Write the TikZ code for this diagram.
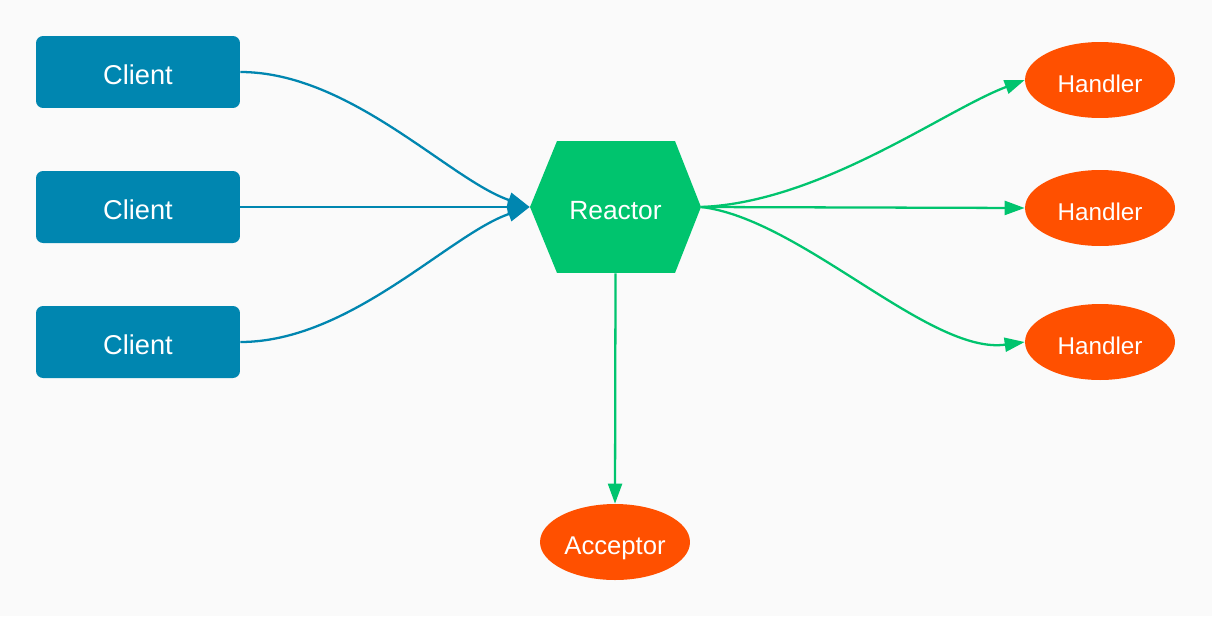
\documentclass[tikz,border=0pt]{standalone}
\usepackage{fontspec}
\setmainfont{Liberation Sans}
\usetikzlibrary{arrows.meta,shapes.geometric}
\definecolor{clientblue}{RGB}{0,134,176}
\definecolor{reactorgreen}{RGB}{0,196,110}
\definecolor{handlerorange}{RGB}{255,80,0}
\definecolor{paper}{RGB}{250,250,250}
\tikzset{
  label text/.style={text=white,text height=.5cm,text depth=0cm},
  client/.style={label text,fill=clientblue,rounded corners=4pt,minimum width=4.08cm,minimum height=1.44cm,
    inner sep=0pt,font=\fontsize{15.5}{18}\selectfont},
  handler/.style={label text,ellipse,fill=handlerorange,minimum width=3cm,minimum height=1.52cm,inner sep=0pt,
    font=\fontsize{13.8}{16}\selectfont},
  hexbox/.style={label text,minimum width=3.42cm,minimum height=2.64cm,inner sep=0pt,
    font=\fontsize{15}{18}\selectfont,
    path picture={\fill[reactorgreen] (path picture bounding box.west)
      -- ([xshift=.54cm]path picture bounding box.north west)
      -- ([xshift=-.52cm]path picture bounding box.north east)
      -- (path picture bounding box.east)
      -- ([xshift=-.52cm]path picture bounding box.south east)
      -- ([xshift=.54cm]path picture bounding box.south west) -- cycle;}},
  inflow/.style={draw=clientblue,line width=1.3pt,-{Triangle[length=.44cm,width=.3cm]}},
  outflow/.style={draw=reactorgreen,line width=1.3pt,-{Triangle[length=.4cm,width=.28cm]}}
}
\begin{document}
\begin{tikzpicture}[x=0.02cm,y=-0.02cm]
  % paper
  \fill[paper] (0,0) rectangle (1212,616);
  \useasboundingbox (0,0) rectangle (1212,616);
  % clients
  \node[client] (client1) at(138,72){Client};
  \node[client] (client2) at(138,207){Client};
  \node[client] (client3) at(138,342){Client};
  % reactor
  \node[hexbox] (reactor) at(615.5,207){Reactor};
  % handlers
  \node[handler] (handler1) at(1100,80){Handler};
  \node[handler] (handler2) at(1100,208){Handler};
  \node[handler] (handler3) at(1100,342){Handler};
  % acceptor
  \node[handler,font=\fontsize{14.6}{17}\selectfont] (acceptor) at(615,542){Acceptor};
  % client -> reactor
  \draw [inflow](client1.east) .. controls +(110,0) and +(-80,-27) .. (reactor.west);
  \draw [inflow](client2.east) -- (reactor.west);
  \draw [inflow](client3.east) .. controls +(110,0) and +(-80,27) .. (reactor.west);
  % reactor -> handlers
  \draw [outflow](reactor.east) .. controls +(120,-5) and +(-80,30) .. (handler1.west);
  \draw [outflow](reactor.east) -- (handler2.west);
  \draw [outflow](reactor.east) .. controls +(100,12) and +(-95,13) .. (handler3.west);
  % reactor -> acceptor
  \draw [outflow](reactor.south) -- (acceptor.north);
\end{tikzpicture}
\end{document}
